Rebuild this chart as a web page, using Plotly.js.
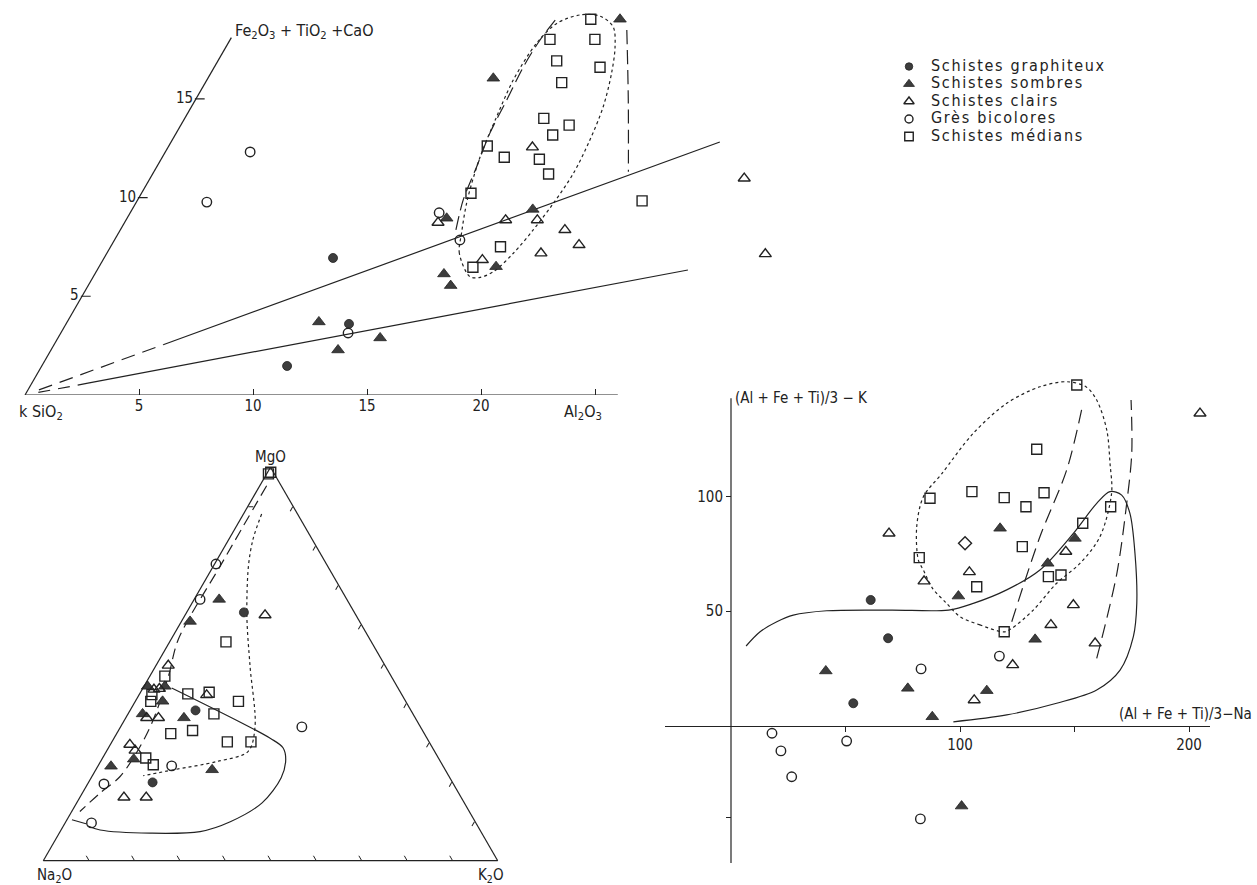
<!DOCTYPE html>
<html><head><meta charset="utf-8">
<script src="https://cdn.plot.ly/plotly-3.0.1.min.js"></script>
<style>html,body{margin:0;padding:0;background:#fff;}#chart{width:1257px;height:885px;}</style>
</head><body><div id="chart"></div>
<script>
const W = 1257, H = 885;
const FONT = "'DejaVu Sans Condensed','Liberation Sans Narrow','Roboto Condensed','Liberation Sans',Arial,sans-serif";
const INK = '#222', FILL = '#3d3d3d';

// ---------- categories ----------
const categories = ['Schistes graphiteux', 'Schistes sombres', 'Schistes clairs', 'Grès bicolores', 'Schistes médians'];
const symbols = ['circle', 'triangle-up', 'triangle-up-open', 'circle-open', 'square-open'];
const markerSizes = [9, 11, 10.5, 9.5, 10];

// ---------- Diagram 1 : Al2O3 (horizontal) / Fe2O3+TiO2+CaO (oblique, 60°) ----------
const d1GraphAl = [10.04, 12.41, 10.76];
const d1GraphFe = [6.94, 3.60, 1.47];
const d1SombAl = [11.04, 14.13, 12.59, 16.58, 12.52, 14.02, 17.57, 17.41, 15.31, 15.90];
const d1SombFe = [3.70, 2.89, 2.28, 19.03, 16.04, 8.95, 9.40, 6.50, 6.13, 5.54];
const d1ClairAl = [15.98, 13.75, 16.65, 18.04, 19.50, 20.50, 19.04, 16.64, 26.06, 28.90];
const d1ClairFe = [12.55, 8.73, 8.86, 8.86, 8.36, 7.60, 7.18, 6.84, 10.97, 7.14];
const d1GresAl = [3.72, 3.09, 12.60, 13.55, 15.15];
const d1GresFe = [12.31, 9.77, 3.14, 9.23, 7.85];
const d1MedAl = [15.30, 15.99, 14.02, 14.86, 16.92, 15.63, 15.75, 17.03, 16.56, 13.97, 15.00, 16.59, 17.37, 14.45, 22.15, 17.10, 16.41];
const d1MedFe = [19.03, 18.01, 18.01, 16.92, 16.60, 15.82, 14.01, 13.67, 13.17, 12.61, 12.04, 11.94, 11.19, 10.22, 9.83, 7.51, 6.47];
// reference lines / envelopes
const d1UpperDashAl = [0.48, 4.81], d1UpperDashFe = [0.26, 2.56];
const d1UpperAl = [4.81, 24.07], d1UpperFe = [2.56, 12.81];
const d1LowerDashAl = [0.52, 2.46], d1LowerDashFe = [0.13, 0.60];
const d1LowerAl = [2.46, 25.91], d1LowerFe = [0.60, 6.33];
const d1LoopAl = [16.52, 15.46, 15.05, 14.46, 13.93, 13.64, 13.44, 13.53, 13.91, 14.72, 15.62, 16.47, 17.06, 17.58, 18.06, 18.32, 18.44, 18.32, 18.11, 17.83, 17.42, 16.98, 16.52];
const d1LoopFe = [5.99, 7.18, 8.19, 9.88, 12.07, 14.09, 15.95, 17.81, 18.82, 19.25, 19.19, 18.65, 17.64, 16.29, 14.60, 12.91, 11.23, 9.71, 8.36, 7.18, 6.24, 5.96, 5.99];
const d1LeftEnvAl = [14.72, 14.28, 14.03, 13.76, 13.66, 13.55, 13.60, 13.78];
const d1LeftEnvFe = [8.36, 9.88, 11.56, 13.25, 14.94, 16.63, 17.98, 19.08];
const d1RightEnvAl = [17.15, 18.99, 20.81];
const d1RightEnvFe = [18.49, 14.94, 11.31];
const d1AlTicks = [5, 10, 15, 20];
const d1AlMinorTicks = [25];
const d1FeTicks = [5, 10, 15];
const d1AlAxisMax = 26, d1FeAxisMax = 18.1;

// ---------- Diagram 2 : ternary MgO / Na2O / K2O (percent; Na2O = 100 - MgO - K2O) ----------
const d2GraphMg = [63.1, 38.2, 19.9];
const d2GraphK = [12.6, 14.4, 14.1];
const d2SombMg = [66.4, 60.8, 44.3, 44.3, 40.5, 37.3, 36.3, 25.8, 24.0, 23.1];
const d2SombK = [5.5, 1.9, 0.8, 4.6, 6.0, 3.2, 12.8, 7.0, 2.9, 25.6];
const d2ClairMg = [62.4, 49.6, 43.5, 43.7, 42.1, 36.3, 36.3, 29.5, 28.0, 16.1, 16.1];
const d2ClairK = [17.6, 2.7, 2.6, 3.7, 14.9, 4.6, 7.2, 4.3, 6.2, 9.7, 14.6];
const d2GresMg = [75.4, 66.4, 34.0, 24.1, 19.5, 9.6];
const d2GresK = [0.3, 1.3, 39.9, 16.2, 3.6, 5.8];
const d2MedMg = [98.3, 98.7, 55.6, 46.9, 42.2, 40.5, 42.4, 42.8, 40.5, 37.3, 33.1, 32.3, 30.2, 30.2, 26.1, 24.4];
const d2MedK = [0.4, 0.7, 12.4, 3.3, 2.8, 3.4, 10.6, 15.1, 22.7, 18.9, 16.3, 11.9, 25.4, 30.6, 9.5, 12.0];
const d2LongDashMg = [95.3, 75.8, 56.2, 46.9, 35.0, 28.2, 21.4, 17.2, 12.5];
const d2LongDashK = [1.5, 1.5, 1.6, 4.1, 6.4, 6.8, 6.2, 3.9, 1.8];
const d2ShortDashMg = [88.1, 81.7, 74.9, 62.2, 49.4, 34.2, 27.8, 25.2, 23.1, 21.6];
const d2ShortDashK = [4.0, 5.3, 7.7, 13.7, 20.8, 29.5, 31.2, 25.6, 17.1, 11.2];
const d2SolidMg = [43.9, 31.0, 28.7, 25.7, 21.1, 14.7, 9.9, 7.4, 7.0, 7.8, 8.8];
const d2SolidK = [6.3, 34.6, 38.4, 40.5, 41.8, 40.8, 36.2, 30.8, 20.0, 8.6, 5.4];
const d2SolidDashMg = [10.4, 9.4];
const d2SolidDashK = [1.1, 4.7];

// ---------- Diagram 3 : (Al+Fe+Ti)/3-Na  vs  (Al+Fe+Ti)/3-K ----------
const d3GraphX = [61.0, 68.6, 53.4];
const d3GraphY = [54.9, 38.2, 9.8];
const d3SombX = [99.3, 41.4, 77.2, 87.9, 100.7, 117.5, 150.2, 138.3, 132.8, 111.7];
const d3SombY = [56.6, 23.9, 16.3, 3.9, -35.1, 86.2, 81.8, 70.9, 37.7, 15.3];
const d3ClairX = [69.0, 104.1, 84.3, 106.2, 204.8, 146.2, 149.5, 139.7, 159.0, 123.0];
const d3ClairY = [84.0, 67.1, 63.1, 11.2, 136.4, 76.0, 52.7, 44.0, 36.0, 26.5];
const d3GresX = [83.0, 17.9, 21.8, 26.5, 50.5, 82.7, 117.2];
const d3GresY = [24.8, -3.3, -11.0, -22.3, -6.7, -40.7, 30.4];
const d3MedX = [86.9, 105.2, 82.2, 107.3, 151.0, 133.5, 119.3, 136.7, 128.8, 165.8, 153.6, 127.2, 138.6, 144.1, 119.3];
const d3MedY = [99.3, 102.2, 73.4, 60.7, 148.8, 120.7, 99.6, 101.7, 95.6, 95.6, 88.4, 78.2, 65.1, 65.8, 41.0];
const d3OtherX = [102.2];
const d3OtherY = [79.7];
const d3SolidX = [6.6, 12.7, 20.0, 27.2, 41.8, 70.0, 95.0, 105.8, 120.4, 134.9, 149.5, 159.7, 165.5, 170.6, 174.2, 176.4, 177.2, 175.7, 169.9, 159.7, 142.2, 120.4, 97.1];
const d3SolidY = [34.8, 41.0, 45.4, 48.3, 50.2, 50.5, 50.5, 53.4, 59.3, 68.0, 84.0, 97.1, 102.2, 100.7, 92.7, 75.3, 53.4, 38.9, 24.3, 15.6, 9.8, 4.7, 1.7];
const d3LoopX = [119.3, 108.7, 100.0, 94.2, 88.0, 84.0, 81.8, 81.1, 84.0, 92.0, 105.8, 120.4, 134.9, 146.6, 155.0, 159.7, 164.1, 165.5, 166.2, 161.1, 152.4, 142.2, 132.0, 122.6, 119.3];
const d3LoopY = [41.0, 44.0, 47.6, 53.4, 60.0, 68.0, 72.4, 86.9, 100.0, 110.0, 127.7, 140.8, 148.0, 150.2, 148.0, 142.2, 129.1, 114.6, 101.5, 82.5, 70.9, 62.2, 50.5, 42.5, 41.0];
const d3Dash1X = [122.6, 134.9, 146.6, 153.1];
const d3Dash1Y = [45.4, 82.5, 111.7, 137.9];
const d3Dash2X = [159.7, 168.4, 172.8, 175.0, 174.7];
const d3Dash2Y = [29.4, 66.0, 97.1, 119.0, 142.2];
const d3XTicks = [100, 200], d3XMinorTicks = [50, 150];
const d3YTicks = [50, 100], d3YMinorTicks = [-40];
const d3XAxisSpan = [-29, 209], d3YAxisSpan = [-60, 143];

// ---------- helpers ----------
const SIN60 = Math.sqrt(3) / 2;
const obX = (al, fe) => al.map((a, i) => a + fe[i] * 0.5);
const obY = fe => fe.map(f => f * SIN60);
const naFrom = (mg, k) => mg.map((m, i) => +(100 - m - k[i]).toFixed(2));

function marker(ci) {
  const filled = ci < 2;
  return {symbol: symbols[ci], size: markerSizes[ci], color: filled ? FILL : INK,
          line: {color: INK, width: filled ? 0.8 : 1.4}};
}
const lineTr = (x, y, dash, xa, ya, shape) => ({type: 'scatter', mode: 'lines', x, y, xaxis: xa, yaxis: ya,
  line: {color: INK, width: 1.2, dash: dash, shape: shape || 'linear', smoothing: 0.9},
  showlegend: false, hoverinfo: 'skip', cliponaxis: false});
const ternLine = (mg, k, dash, shape) => ({type: 'scatterternary', mode: 'lines', subplot: 'ternary',
  a: mg, b: naFrom(mg, k), c: k, line: {color: INK, width: 1.2, dash: dash, shape: shape || 'linear', smoothing: 0.9},
  showlegend: false, hoverinfo: 'skip', cliponaxis: false});

const d1Al = [d1GraphAl, d1SombAl, d1ClairAl, d1GresAl, d1MedAl];
const d1Fe = [d1GraphFe, d1SombFe, d1ClairFe, d1GresFe, d1MedFe];
const d2Mg = [d2GraphMg, d2SombMg, d2ClairMg, d2GresMg, d2MedMg];
const d2K = [d2GraphK, d2SombK, d2ClairK, d2GresK, d2MedK];
const d3X = [d3GraphX, d3SombX, d3ClairX, d3GresX, d3MedX];
const d3Y = [d3GraphY, d3SombY, d3ClairY, d3GresY, d3MedY];

const traces = [];
// Diagram 1 axes and lines
traces.push(lineTr([0, d1AlAxisMax], [0, 0], 'solid', 'x', 'y'));
traces.push(lineTr(obX([0, 0], [0, d1FeAxisMax]), obY([0, d1FeAxisMax]), 'solid', 'x', 'y'));
{ // oblique ticks
  const tx = [], ty = [];
  d1FeTicks.forEach(f => { const X = obX([0], [f])[0], Y = obY([f])[0]; tx.push(X - 0.05, X + 0.38, null); ty.push(Y, Y, null); });
  traces.push(lineTr(tx, ty, 'solid', 'x', 'y'));
}
traces.push(lineTr(obX(d1UpperDashAl, d1UpperDashFe), obY(d1UpperDashFe), '14px,8px', 'x', 'y'));
traces.push(lineTr(obX(d1UpperAl, d1UpperFe), obY(d1UpperFe), 'solid', 'x', 'y'));
traces.push(lineTr(obX(d1LowerDashAl, d1LowerDashFe), obY(d1LowerDashFe), '12px,8px', 'x', 'y'));
traces.push(lineTr(obX(d1LowerAl, d1LowerFe), obY(d1LowerFe), 'solid', 'x', 'y'));
traces.push(lineTr(obX(d1LoopAl, d1LoopFe), obY(d1LoopFe), '3px,3px', 'x', 'y', 'spline'));
traces.push(lineTr(obX(d1LeftEnvAl, d1LeftEnvFe), obY(d1LeftEnvFe), '14px,6px', 'x', 'y', 'spline'));
traces.push(lineTr(obX(d1RightEnvAl, d1RightEnvFe), obY(d1RightEnvFe), '14px,6px', 'x', 'y', 'spline'));

// Diagram 2 curves
traces.push(ternLine(d2LongDashMg, d2LongDashK, '11px,6px', 'spline'));
traces.push(ternLine(d2ShortDashMg, d2ShortDashK, '3px,3px', 'spline'));
traces.push(ternLine(d2SolidMg, d2SolidK, 'solid', 'spline'));
traces.push(ternLine(d2SolidDashMg, d2SolidDashK, 'solid'));

// Diagram 3 axes & curves
traces.push(lineTr([0, 0], d3YAxisSpan, 'solid', 'x2', 'y2'));
traces.push(lineTr(d3SolidX, d3SolidY, 'solid', 'x2', 'y2', 'spline'));
traces.push(lineTr(d3LoopX, d3LoopY, '3px,3px', 'x2', 'y2', 'spline'));
traces.push(lineTr(d3Dash1X, d3Dash1Y, '14px,7px', 'x2', 'y2', 'spline'));
traces.push(lineTr(d3Dash2X, d3Dash2Y, '14px,7px', 'x2', 'y2', 'spline'));

// markers
categories.forEach((name, ci) => {
  traces.push({type: 'scatter', mode: 'markers', name: name, showlegend: false,
    x: obX(d1Al[ci], d1Fe[ci]), y: obY(d1Fe[ci]), xaxis: 'x', yaxis: 'y', marker: marker(ci), cliponaxis: false, hoverinfo: 'skip'});
  traces.push({type: 'scatterternary', mode: 'markers', name: name, showlegend: false, subplot: 'ternary',
    a: d2Mg[ci], b: naFrom(d2Mg[ci], d2K[ci]), c: d2K[ci], marker: marker(ci), cliponaxis: false, hoverinfo: 'skip'});
  traces.push({type: 'scatter', mode: 'markers', name: name, showlegend: false,
    x: d3X[ci], y: d3Y[ci], xaxis: 'x2', yaxis: 'y2', marker: marker(ci), cliponaxis: false, hoverinfo: 'skip'});
});
traces.push({type: 'scatter', mode: 'markers', x: d3OtherX, y: d3OtherY, xaxis: 'x2', yaxis: 'y2', showlegend: false,
  marker: {symbol: 'diamond-open', size: 10, color: INK, line: {color: INK, width: 1.4}}, cliponaxis: false, hoverinfo: 'skip'});

// key (legend) drawn on its own hidden axes: one row per category
const rows = categories.map((_, i) => categories.length - 1 - i);
categories.forEach((name, ci) => {
  traces.push({type: 'scatter', mode: 'markers', x: [9], y: [rows[ci]], xaxis: 'x3', yaxis: 'y3', showlegend: false,
    marker: Object.assign(marker(ci), {size: markerSizes[ci] - 1.5}), cliponaxis: false, hoverinfo: 'skip'});
});
traces.push({type: 'scatter', mode: 'text', x: categories.map(() => 31), y: rows, xaxis: 'x3', yaxis: 'y3', showlegend: false,
  text: categories.map(c => '<span style="letter-spacing:1.7px">' + c + '</span>'), textposition: 'middle right',
  textfont: {family: FONT, size: 16, color: INK}, cliponaxis: false, hoverinfo: 'skip'});

// ---------- layout geometry (pixels -> paper) ----------
const P1 = {ox: 25, oy: 395, sx: 22.8, sy: 22.8, xr: [-1, 35], yr: [0, 17.2]};
const P3 = {ox: 731, oy: 725.7, sx: 2.29, sy: 2.29, xr: [-29, 209], yr: [-60, 153]};
const P4 = {ox: 900, oy: 136.5, sx: 1, sy: 17.5, xr: [0, 340], yr: [-0.5, 4.5]};
const domX = p => [(p.ox + p.xr[0] * p.sx) / W, (p.ox + p.xr[1] * p.sx) / W];
const domY = p => [1 - (p.oy - p.yr[0] * p.sy) / H, 1 - (p.oy - p.yr[1] * p.sy) / H];
const TRI = {x0: 43.3, x1: 497.7, yb: 860.7};
const triH = (TRI.x1 - TRI.x0) * SIN60;

const tickFont = {family: FONT, size: 15, color: INK};
const ternAxis = (extra) => Object.assign({showgrid: false, showticklabels: false, linecolor: INK, linewidth: 1.2,
  ticks: 'inside', ticklen: 5, tickcolor: INK, title: {text: ''}}, extra);

const annotations = [
  // diagram 1
  {xref: 'x', yref: 'y', x: obX([0], [d1FeAxisMax])[0], y: obY([d1FeAxisMax])[0], text: 'Fe<sub>2</sub>O<sub>3</sub> + TiO<sub>2</sub> +CaO',
   xanchor: 'left', yanchor: 'bottom', xshift: 2, yshift: -6, showarrow: false, font: {family: FONT, size: 16, color: INK}},
  {xref: 'x', yref: 'y', x: 0, y: 0, text: 'k SiO<sub>2</sub>', xanchor: 'left', yanchor: 'top', xshift: -8, yshift: -5,
   showarrow: false, font: {family: FONT, size: 16, color: INK}},
  {xref: 'x', yref: 'y', x: 25, y: 0, text: 'Al<sub>2</sub>O<sub>3</sub>', xanchor: 'center', yanchor: 'top', xshift: -12, yshift: -5,
   showarrow: false, font: {family: FONT, size: 16, color: INK}},
  // diagram 2
  {xref: 'paper', yref: 'paper', x: (TRI.x0 + TRI.x1) / 2 / W, y: 1 - (TRI.yb - triH + 1) / H, text: 'MgO',
   xanchor: 'center', yanchor: 'bottom', showarrow: false, font: {family: FONT, size: 15, color: INK}},
  {xref: 'paper', yref: 'paper', x: (TRI.x0 - 8) / W, y: 1 - (TRI.yb + 3) / H, text: 'Na<sub>2</sub>O',
   xanchor: 'left', yanchor: 'top', showarrow: false, font: {family: FONT, size: 15, color: INK}},
  {xref: 'paper', yref: 'paper', x: (TRI.x1 + 8) / W, y: 1 - (TRI.yb + 3) / H, text: 'K<sub>2</sub>O',
   xanchor: 'right', yanchor: 'top', showarrow: false, font: {family: FONT, size: 15, color: INK}},
  // diagram 3
  {xref: 'x2', yref: 'y2', x: 0, y: d3YAxisSpan[1], text: '(Al + Fe + Ti)/3 − K', xanchor: 'left', yanchor: 'middle', xshift: 2, yshift: 0,
   showarrow: false, font: {family: FONT, size: 15, color: INK}},
  {xref: 'x2', yref: 'y2', x: d3XAxisSpan[1], y: 0, text: '(Al + Fe + Ti)/3−Na', xanchor: 'right', yanchor: 'bottom', xshift: 44, yshift: 1,
   showarrow: false, font: {family: FONT, size: 15, color: INK}}
];
d1FeTicks.forEach(f => annotations.push({xref: 'x', yref: 'y', x: obX([0], [f])[0], y: obY([f])[0], text: String(f),
  xanchor: 'right', yanchor: 'middle', xshift: -1, yshift: 1, showarrow: false, font: tickFont}));

const d3xd = domX(P3), d3yd = domY(P3);
const layout = {
  width: W, height: H, margin: {l: 0, r: 0, t: 0, b: 0}, paper_bgcolor: '#fff', plot_bgcolor: 'rgba(0,0,0,0)',
  hovermode: false, showlegend: false, font: {family: FONT, color: INK},
  xaxis: {domain: domX(P1), range: P1.xr, anchor: 'y', showgrid: false, zeroline: false, showline: false,
          tickmode: 'array', tickvals: d1AlTicks, ticks: 'inside', ticklen: 6, tickcolor: INK,
          minor: {tickmode: 'array', tickvals: d1AlMinorTicks, ticks: 'inside', ticklen: 6, tickcolor: INK, showgrid: false},
          tickfont: tickFont, fixedrange: true},
  yaxis: {domain: domY(P1), range: P1.yr, anchor: 'x', visible: false, fixedrange: true},
  xaxis2: {domain: d3xd, range: P3.xr, anchor: 'free',
           position: d3yd[0] + (0 - P3.yr[0]) / (P3.yr[1] - P3.yr[0]) * (d3yd[1] - d3yd[0]),
           showgrid: false, zeroline: false, showline: true, linecolor: INK, linewidth: 1.2,
           tickmode: 'array', tickvals: d3XTicks, ticks: 'outside', ticklen: 5, tickcolor: INK,
           minor: {tickmode: 'array', tickvals: d3XMinorTicks, ticks: 'outside', ticklen: 5, tickcolor: INK, showgrid: false},
           tickfont: tickFont, fixedrange: true},
  yaxis2: {domain: d3yd, range: P3.yr, anchor: 'free',
           position: d3xd[0] + (0 - P3.xr[0]) / (P3.xr[1] - P3.xr[0]) * (d3xd[1] - d3xd[0]),
           showgrid: false, zeroline: false, showline: false,
           tickmode: 'array', tickvals: d3YTicks, ticks: 'outside', ticklen: 5, tickcolor: INK,
           minor: {tickmode: 'array', tickvals: d3YMinorTicks, ticks: 'outside', ticklen: 5, tickcolor: INK, showgrid: false},
           tickfont: tickFont, fixedrange: true},
  xaxis3: {domain: domX(P4), range: P4.xr, anchor: 'y3', visible: false, fixedrange: true},
  yaxis3: {domain: domY(P4), range: P4.yr, anchor: 'x3', visible: false, fixedrange: true},
  ternary: {
    domain: {x: [TRI.x0 / W, TRI.x1 / W], y: [1 - TRI.yb / H, 1 - (TRI.yb - triH) / H]},
    sum: 100, bgcolor: 'rgba(0,0,0,0)',
    aaxis: ternAxis({tickmode: 'array', tickvals: [90]}),
    baxis: ternAxis({tickmode: 'linear', tick0: 0, dtick: 10}),
    caxis: ternAxis({tickmode: 'linear', tick0: 0, dtick: 10})
  },
  annotations: annotations
};

Plotly.newPlot('chart', traces, layout, {displayModeBar: false, staticPlot: true});
</script>
</body></html>
